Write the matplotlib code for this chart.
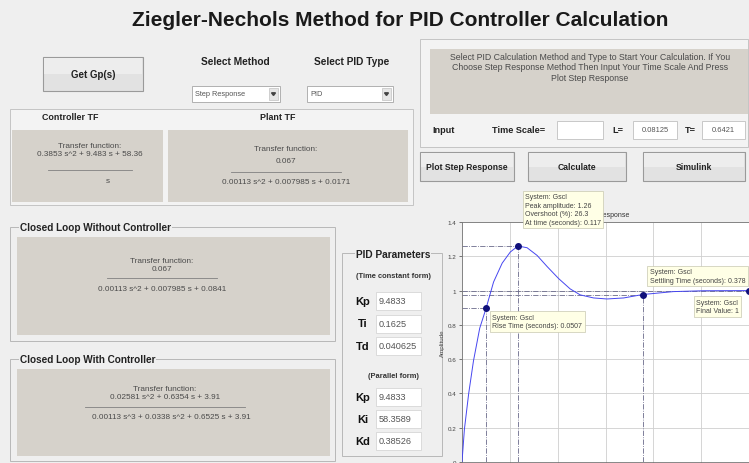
import matplotlib
matplotlib.use("Agg")
import matplotlib.pyplot as plt
from matplotlib.patches import Rectangle, Polygon

plt.rcParams["font.family"] = ["Liberation Sans", "DejaVu Sans"]

W, H = 749, 464

title = "Ziegler-Nechols Method for PID Controller Calculation"
method_choice = "Step Response"
pid_choice = "PID"
info_text = ("Select PID Calculation Method and Type to Start Your Calculation. If You\n"
             "Choose Step Response Method Then Input Your Time Scale And Press\n"
             "Plot Step Response")
L_value = "0.08125"
T_value = "0.6421"

controller_num = "0.3853 s^2 + 9.483 s + 58.36"
controller_den = "s"
plant_num = "0.067"
plant_den = "0.00113 s^2 + 0.007985 s + 0.0171"
open_num = "0.067"
open_den = "0.00113 s^2 + 0.007985 s + 0.0841"
closed_num = "0.02581 s^2 + 0.6354 s + 3.91"
closed_den = "0.00113 s^3 + 0.0338 s^2 + 0.6525 s + 3.91"

time_form_names = ["Kp", "Ti", "Td"]
time_form_values = ["9.4833", "0.1625", "0.040625"]
parallel_names = ["Kp", "Ki", "Kd"]
parallel_values = ["9.4833", "58.3589", "0.38526"]

# step response
t_resp = [0, 0.005, 0.014, 0.024, 0.037, 0.0507, 0.066, 0.084, 0.101, 0.117,
          0.136, 0.157, 0.178, 0.202, 0.226, 0.247, 0.275, 0.303, 0.338,
          0.378, 0.442, 0.505, 0.6]
y_resp = [0, 0.19, 0.40, 0.59, 0.78, 0.90, 1.05, 1.16, 1.225, 1.26,
          1.25, 1.205, 1.14, 1.07, 1.01, 0.975, 0.957, 0.951, 0.957,
          0.977, 0.994, 0.999, 1.0]
rise_time, rise_amp = 0.0507, 0.90
peak_time, peak_amp, overshoot = 0.117, 1.26, 26.3
settle_time, settle_amp = 0.378, 0.977
final_time, final_value = 0.6, 1.0
y_ticks = [0, 0.2, 0.4, 0.6, 0.8, 1, 1.2, 1.4]

bg = "#EFEFEF"
panel = "#D6D2CB"
edge = "#A8A8A8"
tf_size = 5.9

fig = plt.figure(figsize=(W / 100, H / 100), dpi=100, facecolor=bg)
ax = fig.add_axes([0, 0, 1, 1])
ax.set_xlim(0, W)
ax.set_ylim(H, 0)
ax.axis("off")


def box(x0, y0, x1, y1, fc, ec=edge, lw=0.7, z=1):
    ax.add_patch(Rectangle((x0, y0), x1 - x0, y1 - y0, facecolor=fc,
                           edgecolor=ec, linewidth=lw, zorder=z))


def label(x, y, s, size=4.8, bold=False, ha="center", color="#222222", z=3, **kw):
    ax.text(x, y, s, fontsize=size, fontweight="bold" if bold else "normal",
            ha=ha, va="center", color=color, zorder=z, **kw)


def button(x0, y0, x1, y1, s, size=6.2):
    box(x0, y0, x1, y1, "#E2E2E2", "#9A9A9A", 0.8)
    box(x0 + 1, y0 + 1, x1 - 1, (y0 + y1) / 2, "#EDEDED", "none", 0)
    label((x0 + x1) / 2, (y0 + y1) / 2, s, size, True)


def dropdown(x0, y0, x1, y1, s):
    box(x0, y0, x1, y1, "white", "#B0B0B0")
    label(x0 + 3, (y0 + y1) / 2, s, 5.3, ha="left", color="#555555")
    box(x1 - 11, y0 + 2, x1 - 2, y1 - 2, "#E6E6E6", "#C0C0C0", 0.5)
    cx, cy = x1 - 6.5, (y0 + y1) / 2
    ax.add_patch(Polygon([(cx - 2, cy - 1.2), (cx + 2, cy - 1.2), (cx, cy + 1.5)],
                         color="#444444", zorder=4))


def tf_block(cx, rows, num, den, line_half, den_dx=0):
    y_tf, y_num, y_line, y_den = rows
    label(cx, y_tf, "Transfer function:", tf_size, color="#4A4A4A")
    label(cx, y_num, num, tf_size, color="#4A4A4A")
    ax.plot([cx - line_half, cx + line_half], [y_line, y_line],
            color="#808080", lw=0.6, zorder=3)
    label(cx + den_dx, y_den, den, tf_size, color="#4A4A4A")


def group_title(x, y, s):
    label(x, y, s, 7.2, True, ha="left",
          bbox=dict(facecolor=bg, edgecolor="none", pad=0.6))


# title
label(400, 20, title, 15, True, color="#1A1A1A")

# top-left controls
button(43, 58, 143, 92, "Get Gp(s)", 7.0)
label(235, 62, "Select Method", 7.3, True)
label(352, 62, "Select PID Type", 7.3, True)
dropdown(192, 87, 280, 103, method_choice)
dropdown(307, 87, 393, 103, pid_choice)

# controller / plant panel
box(10, 110, 413, 206, "#F3F3F3", "#C4C4C4")
label(70, 118, "Controller TF", 6.4, True)
label(278, 118, "Plant TF", 6.4, True)
box(12, 131, 163, 203, panel, "none")
box(168, 131, 408, 203, panel, "none")
tf_block(90, (147, 155, 171, 182), controller_num, controller_den, 42, 18)
tf_block(286, (150, 162, 173, 183), plant_num, plant_den, 55)

# info panel and inputs
box(420, 40, 748, 148, "#F3F3F3", "#C4C4C4")
box(430, 50, 748, 115, panel, "none")
label(590, 68, info_text, 6.3, color="#4A4A4A", linespacing=1.25)
label(432, 131, "Input", 6.6, True, ha="left")
label(492, 131, "Time Scale=", 6.6, True, ha="left")
box(557, 122, 603, 140, "white", "#C8C8C8")
label(612, 131, "L=", 6.6, True, ha="left")
box(633, 122, 677, 140, "white", "#C8C8C8")
label(655, 131, L_value, 5.4, color="#555555")
label(685, 131, "T=", 6.6, True, ha="left")
box(702, 122, 745, 140, "white", "#C8C8C8")
label(723, 131, T_value, 5.4, color="#555555")

button(420, 153, 514, 182, "Plot Step Response")
button(528, 153, 626, 182, "Calculate")
button(643, 153, 745, 182, "Simulink")

# closed loop panels
box(10, 228, 335, 342, "none", "#B8B8B8")
box(17, 238, 330, 336, panel, "none")
group_title(20, 228, "Closed Loop Without Controller")
tf_block(162, (262, 270, 279, 290), open_num, open_den, 55)

box(10, 360, 335, 462, "none", "#B8B8B8")
box(17, 370, 330, 457, panel, "none")
group_title(20, 360, "Closed Loop With Controller")
tf_block(165, (390, 398, 408, 418), closed_num, closed_den, 80, 6)

# PID parameters panel
box(342, 254, 442, 457, "none", "#B8B8B8")
label(393, 255, "PID Parameters", 7.3, True,
      bbox=dict(facecolor=bg, edgecolor="none", pad=0.6))
label(393, 277, "(Time constant form)", 5.4, True, color="#333333")
label(393, 377, "(Parallel form)", 5.4, True, color="#333333")
for i, (name, val) in enumerate(zip(time_form_names, time_form_values)):
    y = 302 + 22.5 * i
    label(363, y, name, 8.0, True, color="#111111")
    box(376, y - 9, 421, y + 9, "white", "#D0D0D0", 0.5)
    label(379, y, val, 6.6, ha="left", color="#555555")
for i, (name, val) in enumerate(zip(parallel_names, parallel_values)):
    y = 398 + 22 * i
    label(363, y, name, 8.0, True, color="#111111")
    box(376, y - 9, 421, y + 9, "white", "#D0D0D0", 0.5)
    label(379, y, val, 6.6, ha="left", color="#555555")

# step response axes
left, top, right, bottom = 462, 223, 749, 463
sx = fig.add_axes([left / W, 1 - bottom / H, (right - left) / W, (bottom - top) / H])
sx.set_facecolor("white")
sx.set_xlim(0, 0.6)
sx.set_ylim(0, 1.4)
sx.set_yticks(y_ticks)
sx.set_yticklabels([f"{v:g}" for v in y_ticks])
sx.set_xticks([0, 0.1, 0.2, 0.3, 0.4, 0.5, 0.6])
sx.tick_params(labelsize=4.5, colors="#444444", length=2, width=0.5, pad=2)
sx.tick_params(axis="x", labelbottom=False)
sx.grid(True, color="#CFCFCF", lw=0.6)
for sp in sx.spines.values():
    sp.set_color("#777777")
    sp.set_linewidth(0.6)
sx.set_ylabel("Amplitude", fontsize=4.5, color="#444444", labelpad=2)
sx.set_title("Step Response", fontsize=5, color="#333333", pad=4)

mark_kw = dict(color="#6A6A8A", lw=0.6, ls="-.", zorder=2)
sx.plot([0, rise_time], [rise_amp, rise_amp], **mark_kw)
sx.plot([rise_time, rise_time], [0, rise_amp], **mark_kw)
sx.plot([0, peak_time], [peak_amp, peak_amp], **mark_kw)
sx.plot([peak_time, peak_time], [0, peak_amp], **mark_kw)
sx.plot([0, settle_time], [settle_amp, settle_amp], **mark_kw)
sx.plot([settle_time, settle_time], [0, settle_amp], **mark_kw)
sx.plot([0, final_time], [final_value, final_value], **mark_kw)

sx.plot(t_resp, y_resp, color="#4646F0", lw=0.7, zorder=3)
sx.plot([rise_time, peak_time, settle_time, final_time],
        [rise_amp, peak_amp, settle_amp, final_value],
        "o", color="#10107A", ms=4, zorder=4, clip_on=False)

tip = dict(boxstyle="square,pad=0.35", facecolor="#FFFFE6", edgecolor="#C8C8B0", lw=0.5)
tip_kw = dict(textcoords="offset pixels", fontsize=5.0, color="#444444",
              bbox=tip, zorder=6, annotation_clip=False, linespacing=1.3)
sx.annotate("System: Gscl\nPeak amplitude: %.2f\nOvershoot (%%): %.1f\nAt time (seconds): %g"
            % (peak_amp, overshoot, peak_time),
            (peak_time, peak_amp), xytext=(7, 20), ha="left", va="bottom", **tip_kw)
sx.annotate("System: Gscl\nRise Time (seconds): %g" % rise_time,
            (rise_time, rise_amp), xytext=(6, -6), ha="left", va="top", **tip_kw)
sx.annotate("System: Gscl\nSettling Time (seconds): %g" % settle_time,
            (settle_time, settle_amp), xytext=(7, 11), ha="left", va="bottom", **tip_kw)
sx.annotate("System: Gscl\nFinal Value: %g" % final_value,
            (final_time, final_value), xytext=(-53, -8), ha="left", va="top", **tip_kw)

fig.savefig("out.png", dpi=100, facecolor=bg)
